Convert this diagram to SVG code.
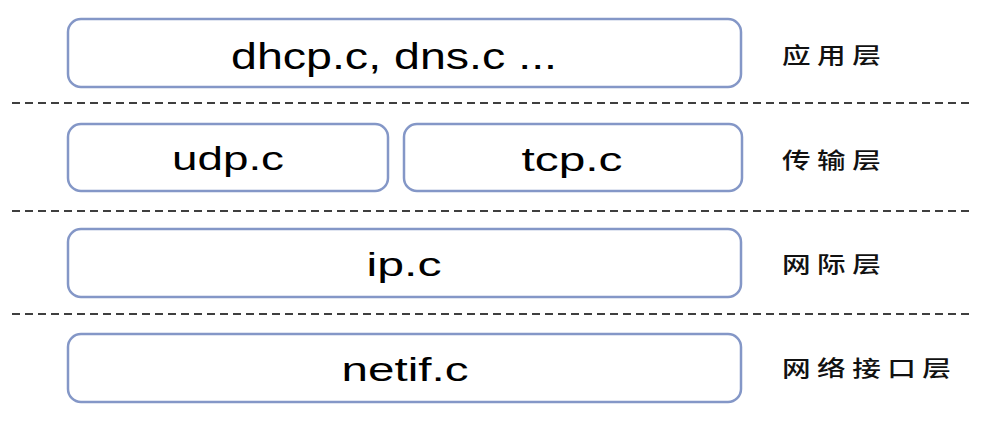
<svg xmlns="http://www.w3.org/2000/svg" width="989" height="425" viewBox="0 0 989 425">
<style>
.box{fill:#ffffff;stroke:#8497c7;stroke-width:2.5}
.t{font-family:"Liberation Sans",Arial,sans-serif;font-size:33px;fill:#000;text-anchor:middle}
.c{font-family:"Noto Sans CJK SC","Liberation Sans",sans-serif;font-size:22px;font-weight:500;fill:#111;letter-spacing:5px;dominant-baseline:central}
.d{stroke:#000;stroke-width:1.3;stroke-dasharray:8 5;fill:none}
</style>
<rect width="989" height="425" fill="#ffffff"/>
<g id="sep">
<line class="d" x1="12" y1="103" x2="974" y2="103"/>
<line class="d" x1="12" y1="211" x2="974" y2="211"/>
<line class="d" x1="12" y1="314" x2="974" y2="314"/>
</g>
<g id="app"><rect class="box" x="68" y="19" width="673" height="68" rx="13"/><text class="t" x="394" y="69" style="font-size:36px" textLength="326" lengthAdjust="spacingAndGlyphs">dhcp.c, dns.c ...</text></g>
<g id="udp"><rect class="box" x="68" y="124" width="320" height="67" rx="13"/><text class="t" x="228" y="170" textLength="112" lengthAdjust="spacingAndGlyphs">udp.c</text></g>
<g id="tcp"><rect class="box" x="404" y="124" width="338" height="67" rx="13"/><text class="t" x="572" y="171" textLength="101" lengthAdjust="spacingAndGlyphs">tcp.c</text></g>
<g id="ip"><rect class="box" x="68" y="229" width="673" height="68" rx="13"/><text class="t" x="404" y="276" textLength="75" lengthAdjust="spacingAndGlyphs">ip.c</text></g>
<g id="netif"><rect class="box" x="68" y="334" width="673" height="68" rx="13"/><text class="t" x="405" y="381" textLength="127" lengthAdjust="spacingAndGlyphs">netif.c</text></g>
<g id="labels">
<text class="c" transform="translate(782,53) scale(1.3,1)">应用层</text>
<text class="c" transform="translate(782,158) scale(1.3,1)">传输层</text>
<text class="c" transform="translate(782,262) scale(1.3,1)">网际层</text>
<text class="c" transform="translate(782,366) scale(1.3,1)">网络接口层</text>
</g>
</svg>
